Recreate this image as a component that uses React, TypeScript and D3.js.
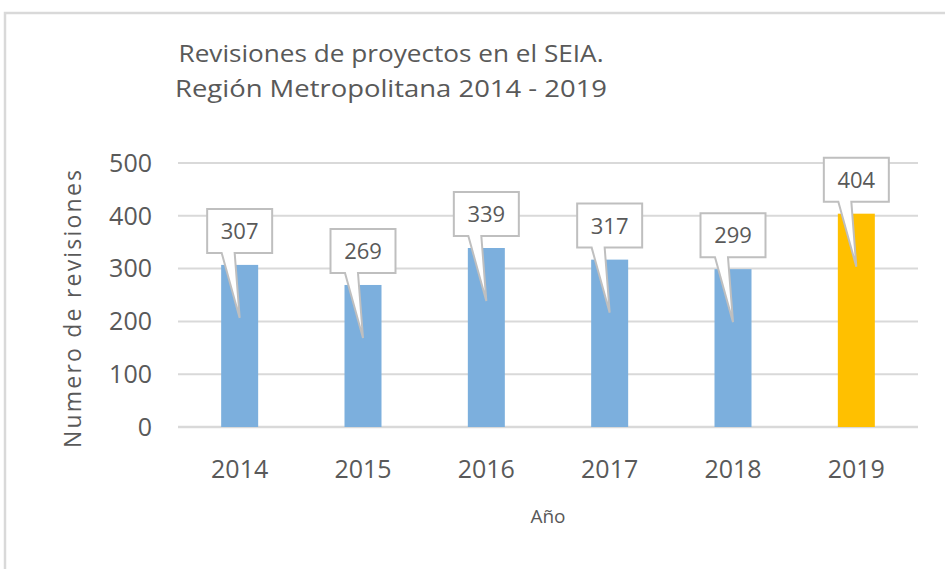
import React from "react";
import * as d3 from "d3";

const years = ["2014", "2015", "2016", "2017", "2018", "2019"];
const revisions = [307, 269, 339, 317, 299, 404];
const barColors = ["#7cafdd", "#7cafdd", "#7cafdd", "#7cafdd", "#7cafdd", "#ffc000"];
const yTicks = [0, 100, 200, 300, 400, 500];
const titleLines = ["Revisiones de proyectos en el SEIA.", "Región Metropolitana 2014 - 2019"];
const yAxisTitle = "Numero de revisiones";
const xAxisTitle = "Año";

const W = 945;
const H = 569;
const FONT = "'Open Sans', 'Noto Sans', sans-serif";
const TEXT = "#595959";
const GRID = "#d9d9d9";

export default function App() {
  const x = d3.scaleBand<string>().domain(years).range([178, 918]).paddingInner(0.7).paddingOuter(0.35);
  const y = d3.scaleLinear().domain([0, 500]).range([427, 163]);

  const boxW = 65;
  const boxH = 44;
  const boxGap = 12;
  const tipDrop = 53;

  return (
    <svg width={W} height={H} style={{ position: "absolute", left: 0, top: 0, background: "#fff" }}>
      {/* chart frame */}
      <rect x={5} y={13} width={W + 10} height={H + 10} fill="#fff" stroke={GRID} strokeWidth={2.5} />

      {/* title */}
      {titleLines.map((t, i) => (
        <text key={i} x={391} y={62 + i * 35} textAnchor="middle" fontFamily={FONT} fontSize={24}
          fill={TEXT} textLength={i === 0 ? 425 : 432} lengthAdjust="spacingAndGlyphs">{t}</text>
      ))}

      {/* gridlines */}
      {yTicks.map((t) => (
        <line key={t} x1={178} x2={918} y1={y(t)} y2={y(t)} stroke={GRID} strokeWidth={t === 0 ? 2.5 : 2} />
      ))}

      {/* y tick labels */}
      {yTicks.map((t) => (
        <text key={t} x={152} y={y(t)} dy="0.35em" textAnchor="end" fontFamily={FONT} fontSize={25} fill={TEXT}>{t}</text>
      ))}

      {/* bars */}
      {years.map((yr, i) => (
        <rect key={yr} x={x(yr)} y={y(revisions[i])} width={x.bandwidth()} height={y(0) - y(revisions[i])} fill={barColors[i]} />
      ))}

      {/* x tick labels */}
      {years.map((yr) => (
        <text key={yr} x={(x(yr) as number) + x.bandwidth() / 2} y={478} textAnchor="middle" fontFamily={FONT} fontSize={25} fill={TEXT}>{yr}</text>
      ))}

      {/* callouts */}
      {years.map((yr, i) => {
        const cx = (x(yr) as number) + x.bandwidth() / 2;
        const top = y(revisions[i]);
        const bottom = top - boxGap;
        const bTop = bottom - boxH;
        const left = cx - boxW / 2;
        const right = cx + boxW / 2;
        const tipY = top + tipDrop;
        const d = `M${left},${bTop} H${right} V${bottom} H${cx - 5} L${cx},${tipY} L${cx - 18},${bottom} H${left} Z`;
        return (
          <g key={yr}>
            <path d={d} fill="#fff" stroke="#bfbfbf" strokeWidth={2} strokeLinejoin="miter" />
            <text x={cx} y={bTop + boxH / 2} dy="0.36em" textAnchor="middle" fontFamily={FONT} fontSize={22} fill={TEXT}>{revisions[i]}</text>
          </g>
        );
      })}

      {/* axis titles */}
      <text transform="translate(81,309) rotate(-90)" textAnchor="middle" fontFamily={FONT} fontSize={23} fill={TEXT}
        textLength={278} lengthAdjust="spacing">{yAxisTitle}</text>
      <text x={548} y={523} textAnchor="middle" fontFamily={FONT} fontSize={19} fill={TEXT}>{xAxisTitle}</text>
    </svg>
  );
}
